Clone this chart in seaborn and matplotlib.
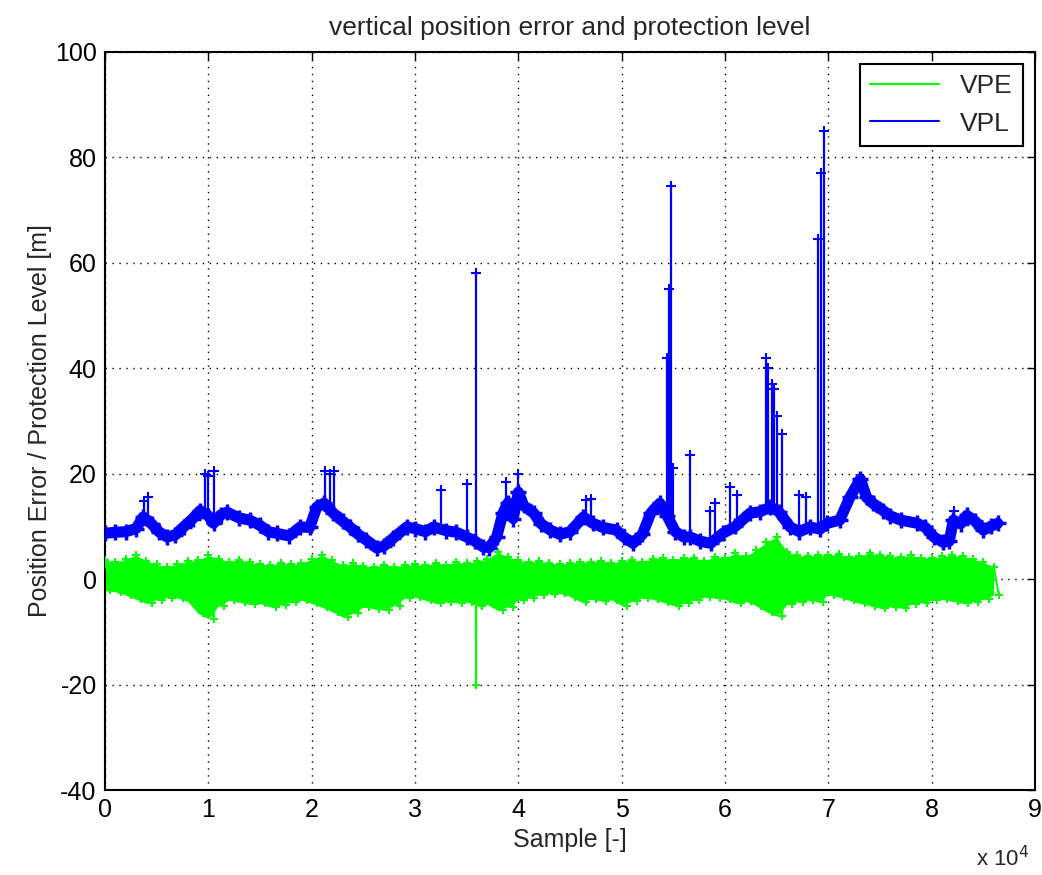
# %%
# VPE / VPL plot, matlab look
import numpy as np
import pandas as pd
import matplotlib
matplotlib.use('Agg')
import matplotlib.pyplot as plt
import matplotlib.ticker as mticker
from matplotlib.lines import Line2D
import seaborn as sns

# %%
# values (sample axis in units of 1e4)
# VPE band: upper / lower edge every 0.1e4 samples
vpe_x = [i / 10 for i in range(87)]
vpe_hi = [3.6, 3.2, 3.8, 4.5, 3.5, 2.8, 2.3, 2.9, 3.4, 3.6,
          4.5, 3.9, 3.3, 3.7, 3.2, 2.9, 2.6, 3.1, 2.8, 3.0,
          3.8, 4.5, 3.6, 2.6, 3.0, 2.5, 2.3, 2.7, 2.4, 2.6,
          2.8, 2.6, 3.1, 2.7, 3.2, 3.0, 3.4, 3.8, 5.1, 4.2,
          3.6, 3.2, 3.4, 3.0, 2.9, 3.0, 3.3, 3.2, 3.5, 3.1,
          3.4, 3.6, 3.3, 3.9, 4.0, 3.7, 4.1, 4.0, 3.5, 4.2,
          4.0, 4.9, 4.3, 5.5, 7.0, 8.0, 5.2, 4.5, 4.3, 4.6,
          4.5, 4.8, 4.2, 4.4, 4.9, 4.6, 4.3, 4.2, 4.5, 4.1,
          4.0, 4.3, 4.5, 4.4, 3.8, 3.2, 2.3]
vpe_lo = [-2.1, -2.4, -3.0, -3.8, -4.6, -3.9, -3.5, -3.6, -4.2, -6.5,
          -7.5, -5.0, -4.0, -4.4, -4.8, -4.6, -5.3, -4.9, -4.4, -4.0,
          -4.6, -5.3, -6.2, -7.2, -6.5, -5.3, -5.6, -5.9, -5.0, -3.6,
          -3.4, -4.0, -4.6, -4.3, -4.5, -4.3, -5.0, -4.8, -5.9, -5.2,
          -4.0, -3.6, -3.0, -2.8, -2.7, -3.3, -4.3, -3.8, -4.1, -3.9,
          -5.0, -4.2, -3.6, -3.8, -4.4, -5.0, -4.6, -4.0, -3.4, -3.6,
          -3.8, -4.6, -4.2, -5.0, -6.2, -7.0, -4.8, -4.3, -4.0, -4.3,
          -3.0, -3.4, -4.0, -4.6, -5.0, -5.5, -5.2, -5.5, -4.8, -4.5,
          -4.0, -3.8, -4.2, -4.6, -4.3, -3.8, -3.0]
vpe_spike_x = [3.59]
vpe_spike_y = [-20.0]

# VPL slow part
vpl_x = [0.0, 0.1, 0.2, 0.3, 0.37, 0.45, 0.52, 0.6, 0.68, 0.76, 0.85, 0.92,
         1.0, 1.05, 1.12, 1.18, 1.3, 1.4, 1.5, 1.58, 1.66, 1.78, 1.89, 1.98,
         2.05, 2.12, 2.21, 2.3, 2.37, 2.45, 2.53, 2.63, 2.7, 2.79, 2.92,
         3.0, 3.1, 3.18, 3.3, 3.4, 3.5, 3.58, 3.66, 3.72, 3.79, 3.85, 3.9,
         3.95, 4.0, 4.05, 4.15, 4.22, 4.31, 4.4, 4.5, 4.63, 4.72, 4.82, 4.95,
         5.02, 5.11, 5.2, 5.28, 5.37, 5.44, 5.52, 5.6, 5.66, 5.76, 5.86, 5.98,
         6.1, 6.24, 6.34, 6.44, 6.52, 6.63, 6.72, 6.82, 6.92, 6.99, 7.11, 7.21,
         7.31, 7.37, 7.43, 7.53, 7.6, 7.7, 7.86, 7.94, 8.02, 8.11, 8.17, 8.21,
         8.28, 8.34, 8.42, 8.5, 8.57, 8.64]
vpl_y = [8.7, 8.9, 9.0, 9.6, 11.8, 10.5, 9.0, 8.0, 8.4, 9.9, 11.5, 13.0,
         12.0, 10.6, 12.2, 12.7, 11.6, 11.2, 10.2, 9.0, 8.7, 8.2, 9.9, 9.8,
         13.7, 14.4, 12.5, 11.0, 9.9, 8.5, 7.4, 5.9, 6.3, 7.8, 9.9,
         9.6, 9.0, 9.9, 9.2, 8.9, 8.0, 7.2, 6.1, 6.0, 8.0, 12.5, 14.5,
         11.5, 16.5, 14.0, 12.5, 10.5, 9.3, 8.5, 9.0, 11.8, 10.6, 9.8, 9.3,
         8.0, 6.8, 8.5, 12.5, 14.4, 12.0, 9.0, 8.0, 8.0, 7.2, 6.8, 8.7,
         10.0, 12.5, 12.8, 13.7, 12.8, 9.9, 9.0, 9.9, 9.5, 10.6, 11.2, 15.6,
         19.0, 15.5, 14.4, 13.0, 12.0, 11.2, 10.6, 9.8, 8.0, 7.0, 7.2, 11.2,
         10.5, 12.1, 11.0, 9.3, 10.0, 10.6]

# VPL spikes: sample, top, base
spike_x = [0.38, 0.42, 0.97, 1.0, 1.05, 2.13, 2.18, 2.22, 3.25, 3.50, 3.59,
           3.88, 4.0, 4.65, 4.70, 5.44, 5.46, 5.48, 5.50, 5.66, 5.85, 5.90,
           6.05, 6.12, 6.40, 6.42, 6.45, 6.47, 6.50, 6.55, 6.72, 6.78,
           6.90, 6.93, 6.96, 8.22]
spike_top = [14.8, 15.5, 20.0, 19.5, 20.5, 20.5, 20.0, 20.5, 17.0, 18.0, 58.0,
             18.5, 20.0, 15.0, 15.3, 42.0, 55.0, 74.5, 21.0, 23.5, 13.0, 14.5,
             17.5, 16.0, 42.0, 40.0, 37.0, 36.0, 31.0, 27.5, 16.0, 15.5,
             64.5, 77.0, 85.0, 13.0]
spike_base = [11.0, 11.5, 13.0, 12.0, 11.0, 14.0, 14.0, 13.0, 9.9, 8.5, 7.0,
              13.0, 15.0, 10.5, 10.6, 12.0, 12.0, 11.0, 10.0, 8.0, 7.0, 7.5,
              9.0, 10.5, 13.0, 13.0, 13.0, 13.0, 12.5, 12.0, 9.5, 9.5,
              10.0, 10.0, 10.0, 8.0]

# %%
scale = 1e4
# zigzag between upper and lower edge for the VPE trace
zz_x, zz_y = [], []
for x, hi, lo in zip(vpe_x, vpe_hi, vpe_lo):
    zz_x += [x * scale, (x + 0.05) * scale]
    zz_y += [hi, lo]
for x, y in zip(vpe_spike_x, vpe_spike_y):
    zz_x += [(x - 0.002) * scale, x * scale, (x + 0.002) * scale]
    zz_y += [0, y, 0]
vpe = pd.DataFrame({'sample': zz_x, 'err': zz_y}).sort_values('sample')
vpl = pd.DataFrame({'sample': np.array(vpl_x) * scale, 'lvl': vpl_y})
spk = pd.DataFrame({'sample': np.array(spike_x) * scale, 'top': spike_top, 'base': spike_base})

# %%
sns.set_style('white')
plt.rcParams['font.family'] = ['Liberation Sans', 'DejaVu Sans']
plt.rcParams['axes.unicode_minus'] = False

green = '#00ff00'
blue = '#0000ff'

fig = plt.figure(figsize=(10.42, 8.75), dpi=100)
ax = fig.add_axes([0.1008, 0.0971, 0.8925, 0.8435])

ax.fill_between(np.array(vpe_x) * scale, vpe_lo, vpe_hi, color=green, lw=0, zorder=2)
sns.lineplot(data=vpe, x='sample', y='err', ax=ax, color=green, lw=1.5, estimator=None,
             sort=False, marker='+', markersize=6, markeredgewidth=1.5,
             markeredgecolor=green, zorder=3)

sns.lineplot(data=vpl, x='sample', y='lvl', ax=ax, color=blue, lw=8, estimator=None,
             marker='+', markersize=11, markeredgewidth=2.5, markeredgecolor=blue, zorder=4)
ax.vlines(spk['sample'], spk['base'], spk['top'], color=blue, lw=1.6, zorder=4)
sns.scatterplot(data=spk, x='sample', y='top', ax=ax, marker='+', s=50, color=blue,
                linewidth=1.5, zorder=5)

ax.set_xlim(0, 9e4)
ax.set_ylim(-40, 100)
ax.xaxis.set_major_locator(mticker.MultipleLocator(1e4))
ax.xaxis.set_major_formatter(mticker.FuncFormatter(lambda v, p: f'{v / scale:g}'))
ax.yaxis.set_major_locator(mticker.MultipleLocator(20))
ax.grid(True, color='black', linestyle=(0, (1, 4)), lw=1.0)
ax.tick_params(direction='in', length=6, width=1, top=True, right=True,
               labelsize=18, pad=6, colors='black')
for s in ax.spines.values():
    s.set_color('black')
    s.set_linewidth(1.5)

ax.set_title('vertical position error and protection level', fontsize=19, pad=12)
ax.set_xlabel('Sample [-]', fontsize=18, labelpad=4)
ax.set_ylabel('Position Error / Protection Level [m]', fontsize=18, labelpad=2)
fig.text(0.937, 0.004, r'x 10$^4$', fontsize=16, ha='left', va='bottom')

handles = [Line2D([0], [0], color=green, lw=1.5), Line2D([0], [0], color=blue, lw=1.5)]
leg = ax.legend(handles, ['VPE', 'VPL'], loc='upper right', fontsize=19, fancybox=False,
                edgecolor='black', framealpha=1, handlelength=2.6, borderaxespad=0.45)
leg.get_frame().set_linewidth(1.5)

plt.savefig('out.png', dpi=100)
